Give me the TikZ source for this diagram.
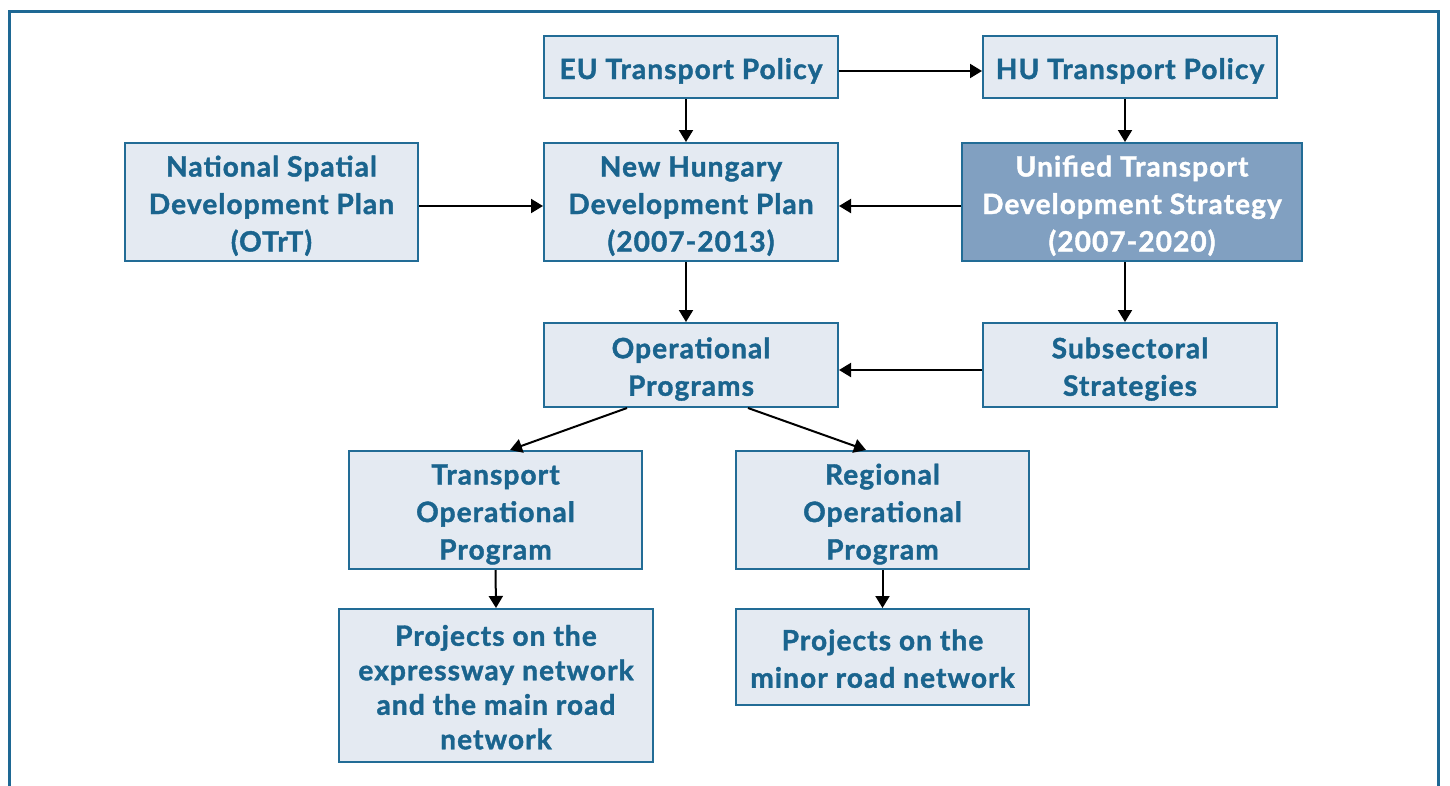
\documentclass[tikz,border=0pt]{standalone}
\usepackage{fontspec}
\setmainfont{Lato}[UprightFont=* Bold, FakeBold=1.5, LetterSpace=4]
\usetikzlibrary{arrows.meta,calc}
\definecolor{framecol}{RGB}{30,104,148}
\definecolor{boxfill}{RGB}{228,234,242}
\definecolor{boxline}{RGB}{34,108,150}
\definecolor{textblue}{RGB}{26,100,142}
\definecolor{darkfill}{RGB}{129,160,193}
% strut on the first line of every box label
\newcommand\firstline{\rule{0pt}{31pt}}
\begin{document}
\begin{tikzpicture}[x=1pt,y=-1pt,
  box/.style={draw=boxline, fill=boxfill, line width=2pt, align=center,
    text=textblue, inner sep=0pt,
    font=\fontsize{28}{37.5}\selectfont,
    execute at end node={\rule[-7pt]{0pt}{7pt}}},
  keybox/.style={box, fill=darkfill, text=white},
  link/.style={draw=black, line width=2pt,
    -{Triangle[width=14pt,length=12pt]}}]
\useasboundingbox (0,0) rectangle (1450,785);
\fill[white] (0,0) rectangle (1450,785);
% outer frame, open at the bottom
\draw[framecol, line width=3pt] (9.5,790) -- (9.5,11.5) -- (1438.5,11.5) -- (1438.5,790);

\node[box, minimum width=294pt, minimum height=62pt] (eu) at (691,67)
  {\firstline EU Transport Policy};
\node[box, minimum width=294pt, minimum height=62pt] (hu) at (1130,67)
  {\firstline HU Transport Policy};
\node[box, minimum width=293pt, minimum height=118pt] (otrt) at (271.5,202)
  {\firstline National Spatial\\Development Plan\\(OTrT)};
\node[box, minimum width=294pt, minimum height=118pt] (nhdp) at (691,202)
  {\firstline New Hungary\\Development Plan\\(2007-2013)};
\node[keybox, minimum width=340pt, minimum height=118pt] (utds) at (1132,202)
  {\firstline Unified Transport\\Development Strategy\\(2007-2020)};
\node[box, minimum width=294pt, minimum height=84pt] (op) at (691,365)
  {\firstline Operational\\Programs};
\node[box, minimum width=294pt, minimum height=84pt] (sub) at (1130,365)
  {\firstline Subsectoral\\Strategies};
\node[box, minimum width=293pt, minimum height=118pt] (top) at (495.5,510)
  {\firstline Transport\\Operational\\Program};
\node[box, minimum width=293pt, minimum height=118pt] (rop) at (882.5,510)
  {\firstline Regional\\Operational\\Program};
\node[box, minimum width=314pt, minimum height=153pt,
  font=\fontsize{28}{34.5}\selectfont] (pexp) at (496,685.5)
  {\firstline Projects on the\\expressway network\\and the main road\\network};
\node[box, minimum width=293pt, minimum height=96pt] (pmin) at (882.5,657)
  {\firstline Projects on the\\minor road network};

\draw[link] ([yshift=-4pt]eu.east) -- ([yshift=-4pt]hu.west);
\draw[link] ([xshift=-5pt]eu.south) -- ([xshift=-5pt]eu.south |- nhdp.north);
\draw[link] ([xshift=-5pt]hu.south) -- ([xshift=-5pt]hu.south |- utds.north);
\draw[link] ([yshift=-4pt]otrt.east) -- ([yshift=-4pt]nhdp.west);
\draw[link] ([yshift=-4pt]utds.west) -- ([yshift=-4pt]nhdp.east);
\draw[link] ([xshift=-5pt]nhdp.south) -- ([xshift=-5pt]nhdp.south |- op.north);
\draw[link] ([xshift=-5pt]sub.north |- utds.south) -- ([xshift=-5pt]sub.north);
\draw[link] ([yshift=-5pt]sub.west) -- ([yshift=-5pt]op.east);
\draw[link] ([xshift=-64pt]op.south) -- ([xshift=14.5pt]top.north);
\draw[link] ([xshift=57pt]op.south) -- ([xshift=-16.5pt]rop.north);
\draw[link] (top.south) -- (pexp.north);
\draw[link] (rop.south) -- (pmin.north);
\end{tikzpicture}
\end{document}
